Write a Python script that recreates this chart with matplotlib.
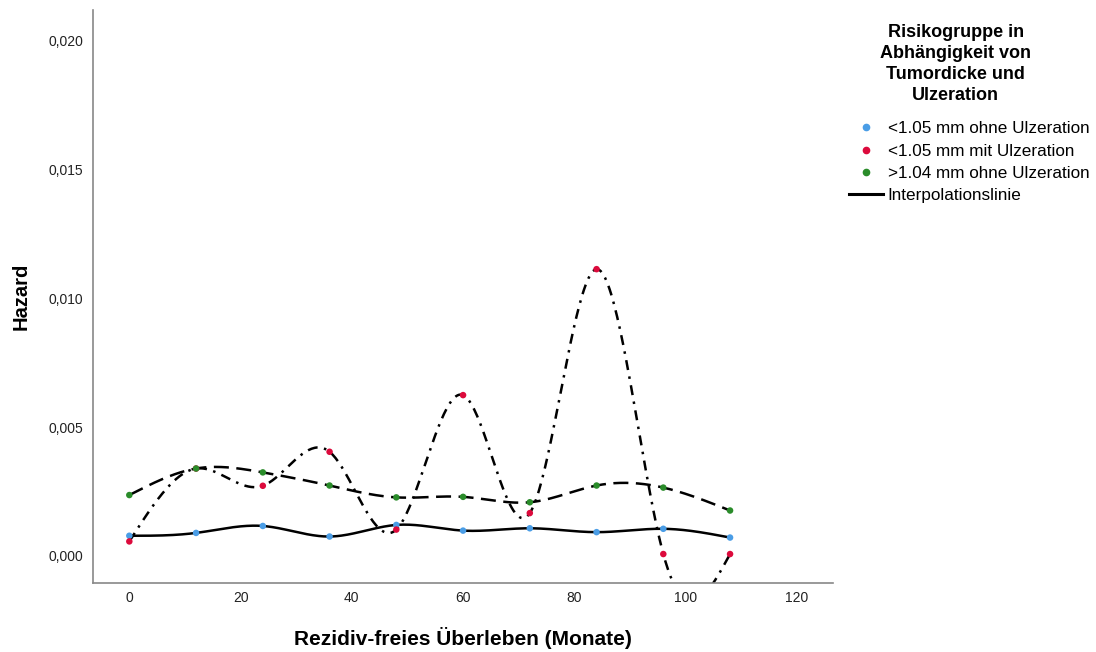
import numpy as np
import matplotlib
matplotlib.use("Agg")
import matplotlib.pyplot as plt
from matplotlib.ticker import FuncFormatter
from matplotlib.lines import Line2D

plt.rcParams['font.family'] = ['Liberation Sans', 'DejaVu Sans']

# Monate
monate = [0, 12, 24, 36, 48, 60, 72, 84, 96, 108]
# Hazard je Risikogruppe
hz_duenn_ohne = [0.00078, 0.00089, 0.00116, 0.00075, 0.00120, 0.00098, 0.00107, 0.00092, 0.00105, 0.00071]
hz_duenn_mit = [0.00056, 0.00339, 0.00272, 0.00404, 0.00102, 0.00624, 0.00166, 0.01113, 0.00007, 0.00007]
hz_dick_ohne = [0.00236, 0.00339, 0.00324, 0.00273, 0.00227, 0.00229, 0.00208, 0.00273, 0.00265, 0.00176]

gruppen = ["<1.05 mm ohne Ulzeration", "<1.05 mm mit Ulzeration", ">1.04 mm ohne Ulzeration"]
farben = ["#4a9de6", "#dc0a3c", "#2a8c2a"]


def natural_spline(x, y, n=400):
    # natuerlicher kubischer Spline (wie Interpolationslinie in SPSS)
    x = np.asarray(x, float)
    y = np.asarray(y, float)
    k = len(x)
    h = np.diff(x)
    A = np.zeros((k, k))
    r = np.zeros(k)
    A[0, 0] = A[-1, -1] = 1
    for i in range(1, k - 1):
        A[i, i - 1] = h[i - 1]
        A[i, i] = 2 * (h[i - 1] + h[i])
        A[i, i + 1] = h[i]
        r[i] = 3 * ((y[i + 1] - y[i]) / h[i] - (y[i] - y[i - 1]) / h[i - 1])
    c = np.linalg.solve(A, r)
    b = (y[1:] - y[:-1]) / h - h * (2 * c[:-1] + c[1:]) / 3
    d = (c[1:] - c[:-1]) / (3 * h)
    xs = np.linspace(x[0], x[-1], n)
    idx = np.clip(np.searchsorted(x, xs) - 1, 0, k - 2)
    dx = xs - x[idx]
    ys = y[idx] + b[idx] * dx + c[idx] * dx ** 2 + d[idx] * dx ** 3
    return xs, ys


fig = plt.figure(figsize=(10.96, 6.52), dpi=100)
ax = fig.add_axes([0.085, 0.106, 0.675, 0.879])

stile = ['-', (0, (4, 2.6, 1, 2.6)), (0, (6, 3))]
serien = [hz_duenn_ohne, hz_duenn_mit, hz_dick_ohne]
for werte, ls in zip(serien, stile):
    xs, ys = natural_spline(monate, werte)
    ax.plot(xs, ys, color='black', lw=1.8, linestyle=ls, zorder=2)
for werte, f in zip(serien, farben):
    ax.scatter(monate, werte, s=22, color=f, edgecolors='none', zorder=3)

ax.set_xlim(-6.5, 126.5)
ax.set_ylim(-0.00105, 0.0212)
ax.set_xticks([0, 20, 40, 60, 80, 100, 120])
ax.set_yticks([0, 0.005, 0.010, 0.015, 0.020])
ax.yaxis.set_major_formatter(FuncFormatter(lambda v, p: f"{v:.3f}".replace('.', ',')))
ax.tick_params(length=0, labelsize=10, colors='#222222')
ax.tick_params(axis='x', pad=6)
ax.tick_params(axis='y', pad=7)
for s in ['top', 'right']:
    ax.spines[s].set_visible(False)
for s in ['left', 'bottom']:
    ax.spines[s].set_color('#888888')
    ax.spines[s].set_linewidth(1.2)

ax.set_xlabel("Rezidiv-freies Überleben (Monate)", fontsize=15, fontweight='bold', labelpad=16)
ax.set_ylabel("Hazard", fontsize=14.5, fontweight='bold', labelpad=13)

# Legendentitel separat (zentriert, etwas mehr Abstand zu den Eintraegen)
fig.text(0.872, 0.963, "Risikogruppe in\nAbhängigkeit von\nTumordicke und\nUlzeration",
         ha='center', va='top', fontsize=13, fontweight='bold', linespacing=1.3)

handles = [Line2D([], [], marker='o', linestyle='none', color=f, markersize=4.5) for f in farben]
handles.append(Line2D([], [], color='black', lw=2.2))
labels = gruppen + ["Interpolationslinie"]
fig.legend(handles, labels, loc='upper left', bbox_to_anchor=(0.767, 0.827),
           frameon=False, fontsize=12.3, handlelength=2.0, handletextpad=0.25,
           labelspacing=0.42, borderpad=0)

fig.savefig("out.png", dpi=100)
